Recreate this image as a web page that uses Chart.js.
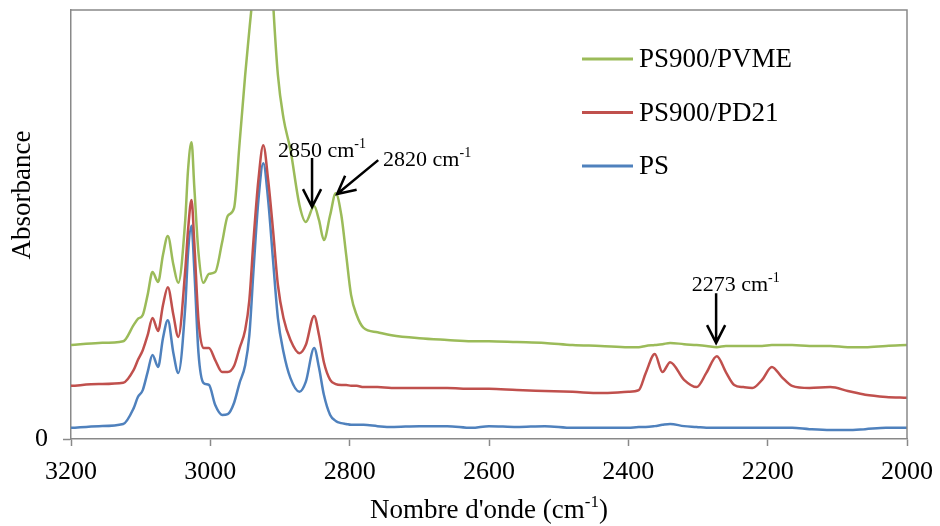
<!DOCTYPE html>
<html>
<head>
<meta charset="utf-8">
<script src="https://cdn.jsdelivr.net/npm/chart.js@4.4.0/dist/chart.umd.min.js"></script>
<style>
  body { margin: 0; background: #ffffff; }
  canvas { display: block; }
</style>
</head>
<body>
<canvas id="irChart" width="940" height="526"></canvas>
<script>
// wavenumbers (cm-1), high to low
const wavenumbers = [
  3200, 3160, 3125, 3110, 3104, 3097, 3090, 3083, 3075, 3068,
  3061, 3053, 3046, 3036, 3032, 3027, 3023, 3017, 3010, 3002,
  2993, 2983, 2975, 2966, 2958, 2950, 2944, 2938, 2931, 2924,
  2917, 2910, 2903, 2895, 2885, 2872, 2863, 2851, 2844, 2837,
  2828, 2820, 2812, 2805, 2798, 2790, 2780, 2760, 2740, 2700,
  2660, 2625, 2600, 2560, 2520, 2480, 2440, 2400, 2385, 2375,
  2362, 2351, 2340, 2320, 2302, 2288, 2273, 2260, 2248, 2235,
  2222, 2208, 2194, 2180, 2165, 2140, 2110, 2085, 2060, 2030,
  2000
];

// PS900/PVME (green)
const pvmeAbs = [
  0.219, 0.224, 0.228, 0.266, 0.280, 0.289, 0.336, 0.389, 0.366, 0.429,
  0.473, 0.406, 0.364, 0.510, 0.627, 0.692, 0.587, 0.434, 0.364, 0.385,
  0.389, 0.459, 0.520, 0.538, 0.690, 0.848, 0.953, 1.060, 1.250, 1.350,
  1.250, 1.020, 0.848, 0.748, 0.674, 0.545, 0.506, 0.543, 0.510, 0.464,
  0.522, 0.573, 0.522, 0.429, 0.336, 0.289, 0.259, 0.249, 0.242, 0.235,
  0.231, 0.228, 0.228, 0.226, 0.224, 0.219, 0.217, 0.214, 0.214, 0.217,
  0.219, 0.221, 0.224, 0.221, 0.219, 0.217, 0.214, 0.217, 0.217, 0.217,
  0.217, 0.217, 0.219, 0.219, 0.219, 0.217, 0.217, 0.214, 0.214, 0.217,
  0.219
];

// PS900/PD21 (red)
const pd21Abs = [
  0.124, 0.128, 0.131, 0.161, 0.184, 0.207, 0.242, 0.282, 0.252, 0.312,
  0.354, 0.289, 0.238, 0.394, 0.487, 0.557, 0.457, 0.277, 0.212, 0.212,
  0.184, 0.156, 0.156, 0.170, 0.212, 0.254, 0.324, 0.464, 0.604, 0.685,
  0.604, 0.487, 0.359, 0.282, 0.231, 0.200, 0.219, 0.287, 0.242, 0.179,
  0.138, 0.128, 0.126, 0.126, 0.124, 0.124, 0.121, 0.121, 0.119, 0.119,
  0.119, 0.117, 0.117, 0.114, 0.112, 0.110, 0.107, 0.110, 0.114, 0.154,
  0.198, 0.156, 0.179, 0.138, 0.121, 0.154, 0.193, 0.156, 0.126, 0.121,
  0.119, 0.138, 0.168, 0.145, 0.124, 0.119, 0.121, 0.112, 0.103, 0.098,
  0.096
];

// PS (blue)
const psAbs = [
  0.026, 0.030, 0.035, 0.072, 0.098, 0.114, 0.156, 0.196, 0.168, 0.235,
  0.277, 0.200, 0.154, 0.308, 0.434, 0.497, 0.394, 0.200, 0.131, 0.126,
  0.079, 0.056, 0.058, 0.084, 0.131, 0.172, 0.242, 0.394, 0.557, 0.643,
  0.557, 0.417, 0.282, 0.203, 0.142, 0.110, 0.133, 0.212, 0.166, 0.103,
  0.056, 0.042, 0.037, 0.035, 0.033, 0.033, 0.033, 0.030, 0.028, 0.030,
  0.030, 0.026, 0.030, 0.028, 0.030, 0.026, 0.026, 0.026, 0.028, 0.028,
  0.030, 0.033, 0.035, 0.030, 0.028, 0.026, 0.026, 0.026, 0.026, 0.026,
  0.026, 0.026, 0.026, 0.026, 0.026, 0.023, 0.021, 0.021, 0.023, 0.026,
  0.026
];

const seriesNames = ["PS900/PVME", "PS900/PD21", "PS"];
const xTicks = [3200, 3000, 2800, 2600, 2400, 2200, 2000];
const yTicks = [0];

const COLORS = ["#9bbb59", "#c0504d", "#4f81bd"];
const GREY = "#898989";
const FONT = "'Times New Roman', 'Liberation Serif', serif";

// arrows + labels, in data units (wavenumber, absorbance)
const annotations = [
  { text: "2850 cm", fromWn: 2854, fromAbs: 0.655, toWn: 2854, toAbs: 0.541, labelWn: 2903, labelAbs: 0.657 },
  { text: "2820 cm", fromWn: 2759, fromAbs: 0.650, toWn: 2818, toAbs: 0.571, labelWn: 2752, labelAbs: 0.636 },
  { text: "2273 cm", fromWn: 2274, fromAbs: 0.340, toWn: 2274, toAbs: 0.224, labelWn: 2309, labelAbs: 0.345 }
];

function toPoints(values) {
  return wavenumbers.map((wn, i) => ({ x: wn, y: values[i] }));
}

// text with a "-1" superscript, left aligned on baseline
function supText(ctx, base, sup, tail, x, y, size) {
  ctx.textAlign = "left";
  ctx.textBaseline = "alphabetic";
  ctx.font = size + "px " + FONT;
  ctx.fillText(base, x, y);
  let w = ctx.measureText(base).width;
  const supSize = Math.round(size * 0.62);
  ctx.font = supSize + "px " + FONT;
  ctx.fillText(sup, x + w, y - size * 0.4);
  w += ctx.measureText(sup).width;
  if (tail) {
    ctx.font = size + "px " + FONT;
    ctx.fillText(tail, x + w, y);
    w += ctx.measureText(tail).width;
  }
  return w;
}

function supWidth(ctx, base, sup, tail, size) {
  ctx.font = size + "px " + FONT;
  let w = ctx.measureText(base + tail).width;
  ctx.font = Math.round(size * 0.62) + "px " + FONT;
  return w + ctx.measureText(sup).width;
}

function arrow(ctx, x1, y1, x2, y2) {
  const ang = Math.atan2(y2 - y1, x2 - x1);
  const len = 20;
  const spread = 0.47;
  ctx.beginPath();
  ctx.moveTo(x1, y1);
  ctx.lineTo(x2, y2);
  ctx.moveTo(x2 - len * Math.cos(ang - spread), y2 - len * Math.sin(ang - spread));
  ctx.lineTo(x2, y2);
  ctx.lineTo(x2 - len * Math.cos(ang + spread), y2 - len * Math.sin(ang + spread));
  ctx.stroke();
}

const overlay = {
  id: "overlay",
  afterDraw(chart) {
    const { ctx, chartArea: a, scales: { x, y } } = chart;
    ctx.save();

    // plot frame, top and right
    ctx.strokeStyle = GREY;
    ctx.lineWidth = 1.5;
    ctx.beginPath();
    ctx.moveTo(a.left, a.top);
    ctx.lineTo(a.right, a.top);
    ctx.lineTo(a.right, a.bottom);
    ctx.stroke();

    // legend inside the plot
    ctx.font = "27px " + FONT;
    ctx.textBaseline = "middle";
    ctx.textAlign = "left";
    seriesNames.forEach((name, i) => {
      const ly = a.top + 49 + i * 53.5;
      ctx.strokeStyle = COLORS[i];
      ctx.lineWidth = 3;
      ctx.beginPath();
      ctx.moveTo(a.right - 325, ly);
      ctx.lineTo(a.right - 274, ly);
      ctx.stroke();
      ctx.fillStyle = "#000000";
      ctx.fillText(name, a.right - 268, ly + 1);
    });

    // arrows and peak labels
    ctx.strokeStyle = "#000000";
    ctx.fillStyle = "#000000";
    ctx.lineWidth = 2.5;
    annotations.forEach((an) => {
      arrow(ctx,
        x.getPixelForValue(an.fromWn), y.getPixelForValue(an.fromAbs),
        x.getPixelForValue(an.toWn), y.getPixelForValue(an.toAbs));
      supText(ctx, an.text, "-1", "",
        x.getPixelForValue(an.labelWn), y.getPixelForValue(an.labelAbs), 22);
    });

    // axis titles
    const tw = supWidth(ctx, "Nombre d'onde (cm", "-1", ")", 27);
    supText(ctx, "Nombre d'onde (cm", "-1", ")", (a.left + a.right) / 2 - tw / 2, 518, 27);

    ctx.translate(23, 195);
    ctx.rotate(-Math.PI / 2);
    ctx.font = "27px " + FONT;
    ctx.textAlign = "center";
    ctx.textBaseline = "middle";
    ctx.fillText("Absorbance", 0, 0);
    ctx.restore();
  }
};

new Chart(document.getElementById("irChart"), {
  type: "line",
  data: {
    datasets: seriesNames.map((name, i) => ({
      label: name,
      data: toPoints([pvmeAbs, pd21Abs, psAbs][i]),
      borderColor: COLORS[i],
      backgroundColor: COLORS[i],
      borderWidth: 2.5,
      pointRadius: 0,
      cubicInterpolationMode: "monotone",
      fill: false
    }))
  },
  options: {
    responsive: false,
    animation: false,
    devicePixelRatio: 1,
    layout: { padding: { top: 10, right: 33, bottom: 0, left: 0 } },
    plugins: {
      legend: { display: false },
      tooltip: { enabled: false }
    },
    scales: {
      x: {
        type: "linear",
        reverse: true,
        min: 2000,
        max: 3200,
        afterBuildTicks: (scale) => {
          scale.ticks = xTicks.map((v) => ({ value: v }));
        },
        afterFit: (scale) => {
          scale.height = 87;
          scale.paddingLeft = 0;
          scale.paddingRight = 0;
        },
        ticks: {
          color: "#000000",
          font: { family: FONT, size: 26 },
          padding: 11,
          maxRotation: 0,
          callback: (v) => String(v)
        },
        grid: {
          drawOnChartArea: false,
          tickLength: 7,
          tickColor: GREY,
          tickWidth: 1.5
        },
        border: { color: GREY, width: 1.5 }
      },
      y: {
        min: 0,
        max: 1,
        afterBuildTicks: (scale) => {
          scale.ticks = yTicks.map((v) => ({ value: v }));
        },
        afterFit: (scale) => {
          scale.width = 71;
          scale.paddingTop = 0;
          scale.paddingBottom = 0;
        },
        ticks: {
          color: "#000000",
          font: { family: FONT, size: 26 },
          padding: 15,
          callback: (v) => String(v)
        },
        grid: {
          drawOnChartArea: false,
          tickLength: 8,
          tickColor: GREY,
          tickWidth: 1.5
        },
        border: { color: GREY, width: 1.5 }
      }
    }
  },
  plugins: [overlay]
});
</script>
</body>
</html>
